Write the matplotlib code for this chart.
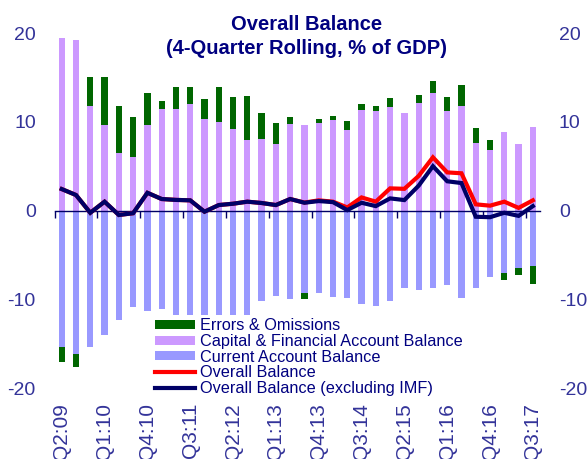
import matplotlib
matplotlib.use("Agg")
import matplotlib.pyplot as plt
import numpy as np
from matplotlib.patches import Patch
from matplotlib.lines import Line2D

plt.rcParams['font.family'] = ['Liberation Sans', 'DejaVu Sans']
plt.rcParams['axes.unicode_minus'] = False

# ---- data (4-quarter rolling, % of GDP), Q2:09 .. Q3:17 ----
tick_labels = ["Q2:09", "Q1:10", "Q4:10", "Q3:11", "Q2:12", "Q1:13",
               "Q4:13", "Q3:14", "Q2:15", "Q1:16", "Q4:16", "Q3:17"]

capital = [19.5, 19.2, 11.8, 9.6, 6.5, 6.0, 9.6, 11.4, 11.4, 12.0, 10.3, 10.0,
           9.2, 8.0, 8.1, 7.5, 9.8, 9.6, 9.9, 10.2, 9.1, 11.3, 11.2, 11.7,
           11.0, 12.1, 13.2, 11.2, 11.8, 7.6, 6.8, 8.8, 7.5, 9.4]
current = [-15.35, -16.2, -15.35, -14.0, -12.3, -10.9, -11.3, -11.1, -12.7, -12.75,
           -12.7, -13.3, -12.0, -11.9, -10.2, -9.6, -10.0, -9.3, -9.3, -9.7,
           -9.8, -10.5, -10.8, -10.2, -8.7, -9.0, -8.7, -8.4, -9.9, -8.7,
           -7.5, -7.0, -6.5, -6.3]
errors = [-1.75, -1.4, 3.2, 5.4, 5.3, 4.5, 3.7, 1.0, 2.5, 1.9, 2.3, 3.9,
          3.6, 4.9, 2.9, 2.4, 0.8, -0.7, 0.4, 0.45, 0.95, 0.7, 0.6, 1.0,
          0.0, 0.9, 1.4, 1.6, 2.3, 1.7, 1.2, -0.8, -0.8, -2.0]
overall = [2.42, 1.75, -0.25, 1.0, -0.5, -0.3, 2.0, 1.3, 1.2, 1.15, -0.13, 0.62,
           0.77, 1.0, 0.85, 0.62, 1.3, 0.9, 1.15, 1.0, 0.35, 1.48, 1.0, 2.5,
           2.45, 3.9, 6.0, 4.3, 4.2, 0.7, 0.55, 1.0, 0.3, 1.15]
overall_ex_imf = [2.42, 1.75, -0.25, 1.0, -0.5, -0.3, 2.0, 1.3, 1.2, 1.15, -0.13, 0.62,
                  0.77, 1.0, 0.85, 0.62, 1.3, 0.88, 1.07, 0.95, 0.05, 0.88, 0.5, 1.37,
                  1.18, 2.8, 5.0, 3.3, 3.1, -0.7, -0.75, -0.25, -0.6, 0.5]

# ---- styling ----
C_ERR = "#006600"
C_CAP = "#CC99FF"
C_CUR = "#9999FF"
C_RED = "#FF0000"
C_NAVY = "#000066"
C_TXT = "#000080"
C_TICK = "#333399"

W, H = 587, 459
fig = plt.figure(figsize=(W / 100, H / 100), dpi=100)
ax_l, ax_r, ax_b, ax_t = 54.6, 540.0, 388.0, 33.1
ax = fig.add_axes([ax_l / W, 1 - ax_b / H, (ax_r - ax_l) / W, (ax_b - ax_t) / H])

n = len(capital)
x = np.arange(n)
cap = np.array(capital)
cur = np.array(current)
err = np.array(errors)
err_bottom = np.where(err >= 0, cap, cur)

bw = 0.44
ax.bar(x, cur, width=bw, color=C_CUR, zorder=1)
ax.bar(x, cap, width=bw, color=C_CAP, zorder=1)
ax.bar(x, err, width=bw, bottom=err_bottom, color=C_ERR, zorder=1)

ax.plot(x, overall, color=C_RED, lw=3.0, zorder=3, solid_joinstyle='miter')
ax.plot(x, overall_ex_imf, color=C_NAVY, lw=3.0, zorder=4, solid_joinstyle='miter')

ax.set_xlim(-0.5, n - 0.5)
ax.set_ylim(-20, 20)

for s in ['top', 'left', 'right']:
    ax.spines[s].set_visible(False)
ax.spines['bottom'].set_position(('data', 0))
ax.spines['bottom'].set_color(C_NAVY)
ax.spines['bottom'].set_linewidth(1.0)
ax.spines['bottom'].set_zorder(2.5)

# major ticks: labels at every third quarter, far below
ax.set_xticks(x[::3])
ax.set_xticklabels(tick_labels, rotation=90, fontsize=15, color=C_TICK)
half_px = (ax_b - ax_t) / 2
ax.tick_params(axis='x', which='major', length=0, pad=(half_px + 15) * 0.72)
# minor ticks: marks on zero line at boundaries
ax.set_xticks(np.arange(-0.5, n - 0.5, 3), minor=True)
ax.tick_params(axis='x', which='minor', length=5, width=1, color=C_NAVY, direction='out')

ax.set_yticks([-20, -10, 0, 10, 20])
ax.tick_params(axis='y', length=0, labelsize=14, labelcolor=C_TICK,
               labelleft=True, labelright=True, pad=13.5)

# title
fig.text(307 / W, 1 - 25 / H, "Overall Balance", ha='center', va='center',
         fontsize=14.5, fontweight='bold', color=C_TXT)
fig.text(307 / W, 1 - 48 / H, "(4-Quarter Rolling, % of GDP)", ha='center', va='center',
         fontsize=14.5, fontweight='bold', color=C_TXT)

handles = [Patch(facecolor=C_ERR, edgecolor='none'),
           Patch(facecolor=C_CAP, edgecolor='none'),
           Patch(facecolor=C_CUR, edgecolor='none'),
           Line2D([], [], color=C_RED, lw=3),
           Line2D([], [], color=C_NAVY, lw=3)]
labels = ["Errors & Omissions", "Capital & Financial Account Balance",
          "Current Account Balance", "Overall Balance",
          "Overall Balance (excluding IMF)"]
leg = ax.legend(handles, labels, loc='upper left',
                bbox_to_anchor=(152 / W, 1 - 315 / H), bbox_transform=fig.transFigure,
                fontsize=11.7, frameon=True, facecolor='white', edgecolor='none',
                framealpha=1, fancybox=False, borderpad=0.2, borderaxespad=0,
                handlelength=2.45, handleheight=0.5, handletextpad=0.3,
                labelspacing=0.04)
for t in leg.get_texts():
    t.set_color(C_TXT)
leg.set_zorder(5)

fig.savefig("out.png", dpi=100)
